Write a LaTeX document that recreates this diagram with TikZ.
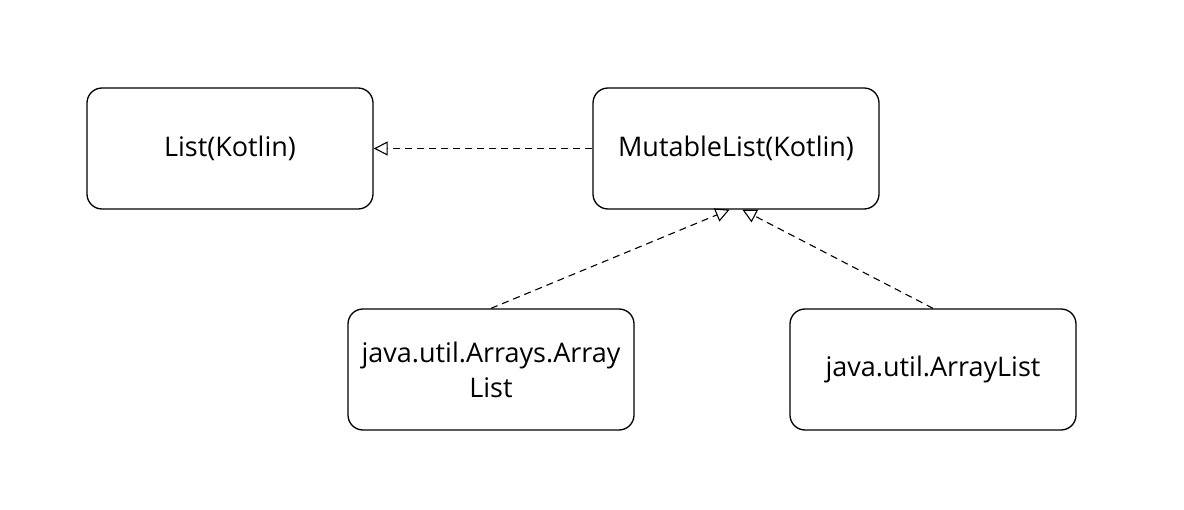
\documentclass[tikz,border=0pt]{standalone}
\usepackage{fontspec}
\setmainfont{Open Sans}
\usetikzlibrary{positioning, arrows.meta}

\begin{document}
\begin{tikzpicture}
    [
        x=1pt, y=1pt, node distance=221pt and 506pt, on grid,
        class_box/.style={rectangle, rounded corners=15pt, draw=black, line width=1.3pt, fill=white, minimum width=286pt, minimum height=121pt, font=\fontsize{27}{35}\selectfont, align=center},
        realize/.style={-{Triangle[open, length=14pt, width=14pt]}, line width=1.1pt, dash pattern=on 7pt off 5pt},
    ]
        \useasboundingbox (0,0) rectangle (1184,-510);
        \node[class_box] (list) at (230,-148.5) {List(Kotlin)} ;
        \node[class_box] (mutable) [right = of list] {MutableList(Kotlin)} ;
        \node[class_box] (arrays) at (491,-369.5) {java.util.Arrays.Array\\List} ;
        \node[class_box] (arraylist) [right = 442pt of arrays] {java.util.ArrayList} ;
        \draw[realize] (mutable) to (list) ;
        \draw[realize] (arrays.north) to (mutable.-96) ;
        \draw[realize] (arraylist.north) to (mutable.-84) ;
    \end{tikzpicture}
\end{document}
